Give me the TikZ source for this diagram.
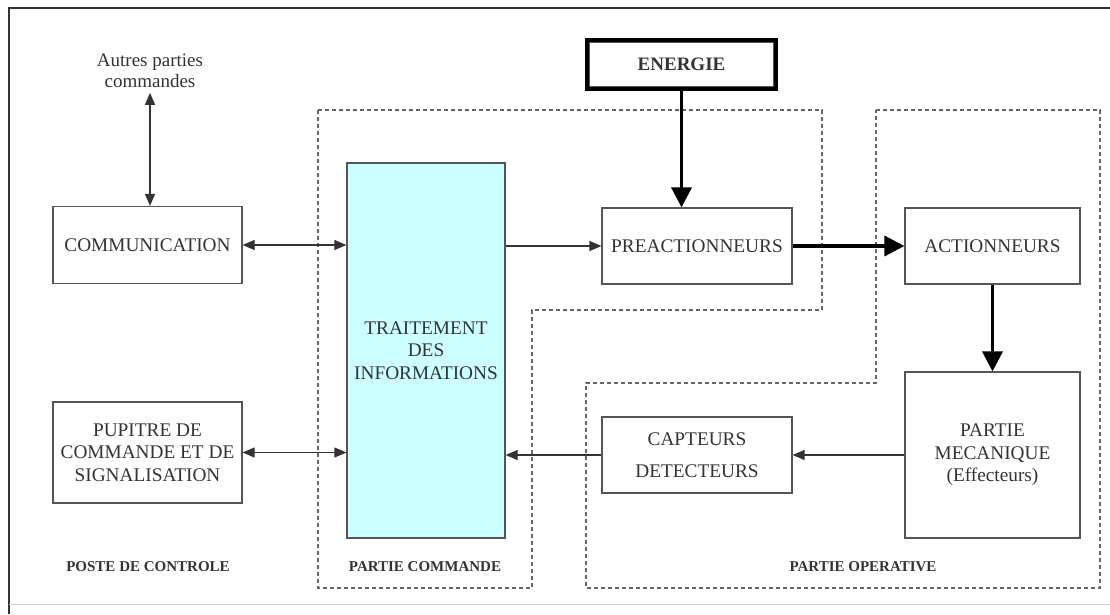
\documentclass[tikz,border=0pt]{standalone}
\usepackage{fontspec}
\setmainfont{Liberation Serif}
\usetikzlibrary{arrows.meta}
\definecolor{ink}{HTML}{333333}
\definecolor{boxline}{HTML}{555555}
\definecolor{zoneline}{HTML}{666666}
\definecolor{cyanfill}{HTML}{CCFFFF}

\begin{document}
\begin{tikzpicture}[x=1pt,y=-1pt,
  blk/.style={draw=boxline, line width=1.2pt, text=ink, align=center,
    font=\fontsize{19.3}{22.5}\selectfont, inner sep=0pt},
  zone/.style={draw=zoneline, line width=1.1pt, dash pattern=on 4pt off 3pt},
  thin/.style={draw=ink, line width=1.1pt, -{Triangle[length=12pt,width=10pt]}},
  both/.style={thin, {Triangle[length=12pt,width=10pt]}-{Triangle[length=12pt,width=10pt]}},
  heavy/.style={draw=black, line width=3.5pt, -{Triangle[length=20pt,width=20pt]}},
  zonelabel/.style={text=ink, font=\bfseries\fontsize{15}{18}\selectfont}
]
\useasboundingbox[fill=white] (0,0) rectangle (1110,614);

% outer frame
\draw[ink, line width=1.5pt] (9,614) -- (9,8) -- (1110,8);
\draw[gray!35, line width=1pt] (9,604) -- (1110,604);

% zones
\draw[zone] (318,110) -- (822,110) -- (822,310) -- (532,310) -- (532,588) -- (318,588) -- cycle;
\draw[zone] (876,110) -- (1100,110) -- (1100,588) -- (586,588) -- (586,383) -- (876,383) -- cycle;

% blocks
\node[blk, minimum width=189pt, minimum height=77pt] (comm) at (147.5,245) {COMMUNICATION};
\node[blk, minimum width=189pt, minimum height=101pt] (pup) at (147.5,452.5)
  {PUPITRE DE\\COMMANDE ET DE\\SIGNALISATION};
\node[blk, fill=cyanfill, minimum width=158pt, minimum height=375pt, text=black!80] (trait) at (426,350.5)
  {TRAITEMENT\\DES\\INFORMATIONS};
\node[blk, minimum width=190pt, minimum height=76pt] (pre) at (697,246) {PREACTIONNEURS};
\node[blk, minimum width=175pt, minimum height=76pt] (act) at (992.5,246) {ACTIONNEURS};
\node[blk, minimum width=175pt, minimum height=166pt] (meca) at (992.5,455)
  {PARTIE\\MECANIQUE\\(Effecteurs)};
\node[blk, minimum width=190pt, minimum height=76pt] (capt) at (697,455)
  {CAPTEURS\\[9pt]DETECTEURS};
\node[draw=black, line width=5pt, minimum width=188pt, minimum height=48pt, inner sep=0pt,
  text=ink, font=\bfseries\fontsize{19}{22}\selectfont] (ener) at (681.5,64.5) {ENERGIE};
\draw[boxline, line width=1pt] ([shift={(4.5,4.5)}]ener.north west) rectangle ([shift={(-4.5,-4.5)}]ener.south east);

\node[text=ink, align=center, font=\fontsize{19}{20.5}\selectfont, inner sep=5pt] (autres) at (150,71)
  {Autres parties\\commandes};

% zone labels
\node[zonelabel] (lposte) at (148,567) {POSTE DE CONTROLE};
\node[zonelabel] (lcmd) at (425,567) {PARTIE COMMANDE};
\node[zonelabel] (lop) at (863,567) {PARTIE OPERATIVE};

% information flow
\draw[both] (autres.south) -- (autres.south |- comm.north);
\draw[both] (comm.east) -- (trait.west |- comm.east);
\draw[both] (pup.east) -- (trait.west |- pup.east);
\draw[thin] (trait.east |- pre.west) -- (pre.west);
\draw[thin] (capt.west) -- (trait.east |- capt.west);
\draw[thin] (meca.west |- capt.east) -- (capt.east);

% power flow
\draw[heavy] (ener.south) -- (ener.south |- pre.north);
\draw[heavy] (pre.east) -- (act.west);
\draw[heavy] (act.south) -- (meca.north);
\end{tikzpicture}
\end{document}
